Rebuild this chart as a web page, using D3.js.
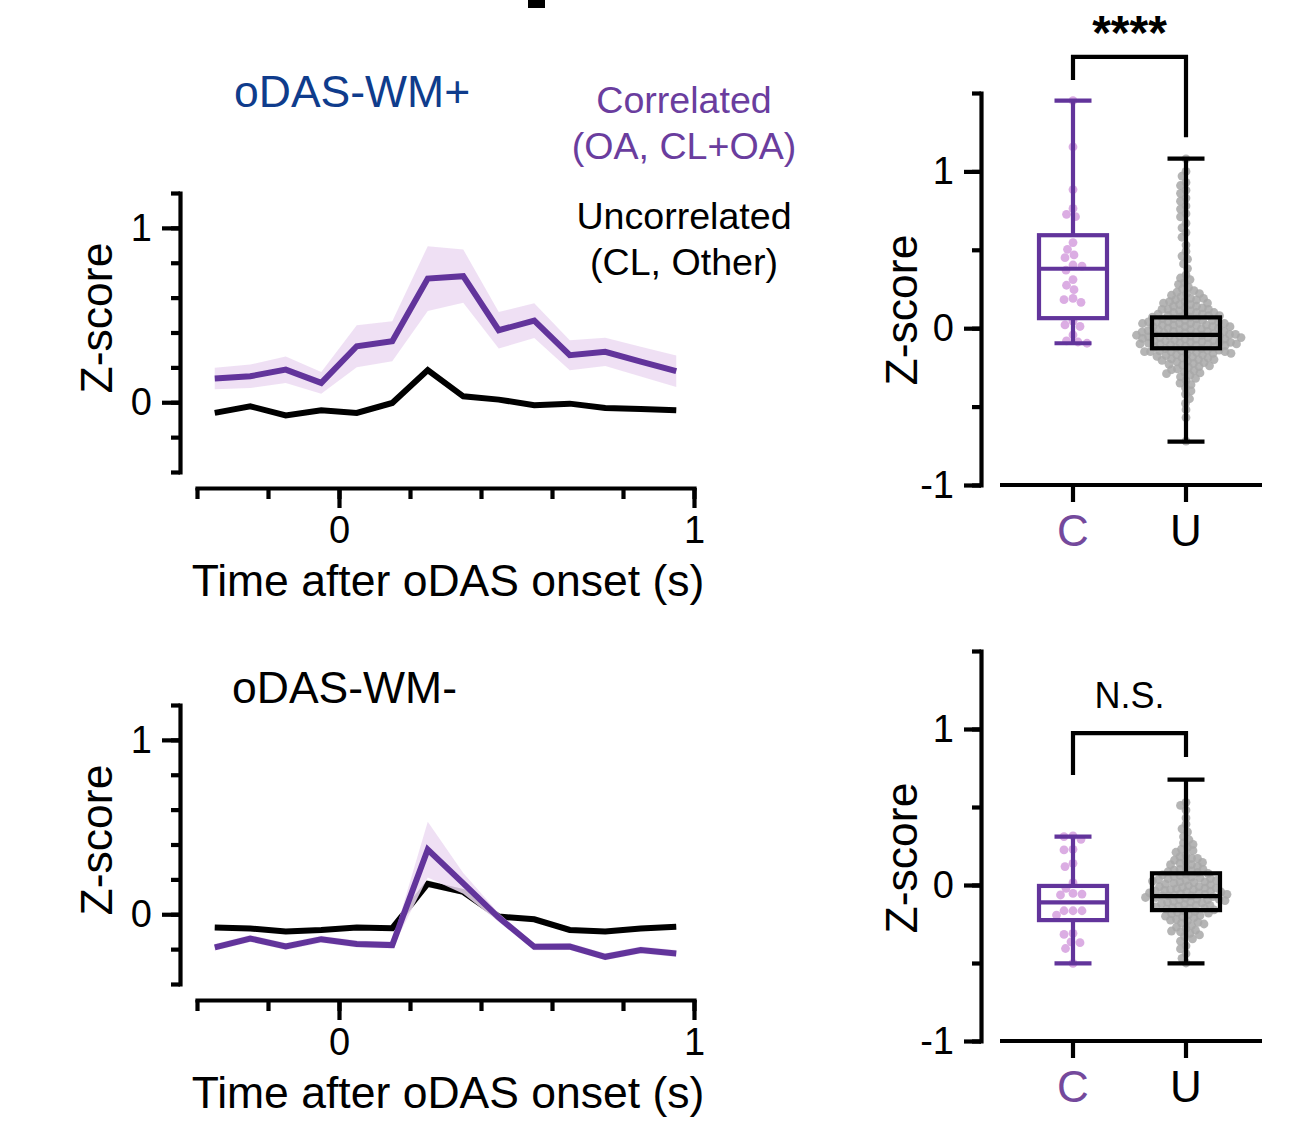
<!DOCTYPE html>
<html><head><meta charset="utf-8">
<script src="https://cdn.jsdelivr.net/npm/d3@7"></script>
<style>
body{margin:0;background:#fff}
svg{display:block}
text{font-family:"Liberation Sans",Arial,Helvetica,sans-serif}
</style>
</head><body>
<svg id="c" width="1304" height="1127"></svg>
<script>
// ---------------- DATA ----------------
const timeSec = [-0.35,-0.25,-0.15,-0.05,0.05,0.15,0.25,0.35,0.45,0.55,0.65,0.75,0.85,0.95];
const xTickValues = [-0.4,-0.2,0,0.2,0.4,0.6,0.8,1.0];
const xTickLabels = ["0","1"];
const lineYTicks = [-0.4,-0.2,0,0.2,0.4,0.6,0.8,1.0,1.2];
const lineYLabels = ["0","1"];

// oDAS-WM+
const wmPlusCorrMean = [0.136,0.149,0.187,0.111,0.321,0.350,0.709,0.723,0.413,0.468,0.270,0.289,0.233,0.178];
const wmPlusCorrSem  = [0.062,0.067,0.076,0.062,0.120,0.115,0.186,0.153,0.105,0.100,0.086,0.081,0.085,0.090];
const wmPlusUncMean  = [-0.061,-0.023,-0.076,-0.046,-0.061,-0.004,0.184,0.034,0.015,-0.017,-0.008,-0.033,-0.038,-0.046];
const wmPlusUncSem   = [0.012,0.012,0.012,0.012,0.012,0.014,0.022,0.014,0.012,0.012,0.012,0.012,0.012,0.012];
// oDAS-WM-
const wmMinusCorrMean = [-0.190,-0.139,-0.185,-0.143,-0.171,-0.177,0.371,0.177,-0.019,-0.187,-0.185,-0.244,-0.205,-0.225];
const wmMinusCorrSem  = [0.020,0.020,0.020,0.020,0.020,0.020,0.160,0.060,0.025,0.020,0.020,0.020,0.020,0.020];
const wmMinusUncMean  = [-0.076,-0.082,-0.099,-0.090,-0.076,-0.080,0.175,0.128,-0.013,-0.029,-0.090,-0.099,-0.082,-0.072];
const wmMinusUncSem   = [0.012,0.012,0.012,0.012,0.012,0.012,0.020,0.016,0.012,0.012,0.012,0.012,0.012,0.012];

// box plots: categories and stats [min, q1, median, q3, max]
const boxCategories = ["C","U"];
const boxYTicks = [-1,-0.5,0,0.5,1,1.5];
const boxYLabels = ["-1","0","1"];
const wmPlusBoxC = [-0.096,0.064,0.379,0.593,1.452];
const wmPlusBoxU = [-0.724,-0.128,-0.043,0.069,1.081];
const wmMinusBoxC = [-0.503,-0.225,-0.111,-0.006,0.310];
const wmMinusBoxU = [-0.503,-0.161,-0.071,0.075,0.675];
const sigLabels = ["****","N.S."];

const wmPlusPointsC = [1.452,1.156,0.884,0.764,0.726,0.711,0.546,0.503,0.467,0.450,0.403,0.396,0.370,0.310,0.274,0.246,0.190,0.182,0.165,0.045,0.021,0.011,-0.043,-0.081,-0.088,-0.096];
const wmPlusPointsU = [1.08,1.00,0.97,0.93,0.91,0.88,0.86,0.83,0.81,0.78,0.76,0.73,0.71,0.67,0.64,0.61,0.58,0.53,0.49,0.46,0.44,0.41,0.38,0.34,0.32,0.31,
0.29,0.28,0.26,0.25,
0.24,0.23,0.22,0.22,0.21,0.20,
0.19,0.19,0.18,0.18,0.17,0.17,0.16,0.16,0.15,
0.15,0.14,0.14,0.13,0.13,0.12,0.12,0.12,0.11,0.11,0.10,
0.10,0.10,0.09,0.09,0.09,0.08,0.08,0.08,0.07,0.07,0.07,0.06,0.06,0.06,0.05,
0.05,0.05,0.04,0.04,0.04,0.04,0.03,0.03,0.03,0.03,0.02,0.02,0.02,0.02,0.01,0.01,0.01,0.01,0.00,0.00,
-0.005,-0.01,-0.01,-0.01,-0.015,-0.02,-0.02,-0.02,-0.025,-0.03,-0.03,-0.03,-0.035,-0.04,-0.04,-0.04,-0.045,-0.045,-0.05,-0.05,-0.05,-0.05,
-0.055,-0.06,-0.06,-0.06,-0.065,-0.07,-0.07,-0.07,-0.075,-0.08,-0.08,-0.08,-0.085,-0.09,-0.09,-0.09,-0.095,-0.095,-0.10,-0.10,-0.10,-0.10,
-0.105,-0.11,-0.11,-0.115,-0.12,-0.12,-0.125,-0.13,-0.13,-0.135,-0.14,-0.14,-0.145,-0.145,-0.15,-0.15,-0.15,-0.15,
-0.155,-0.16,-0.16,-0.165,-0.17,-0.17,-0.175,-0.18,-0.185,-0.19,-0.19,-0.195,-0.20,-0.20,
-0.205,-0.21,-0.215,-0.22,-0.225,-0.23,-0.235,-0.24,-0.245,-0.25,
-0.26,-0.265,-0.27,-0.28,-0.285,-0.29,-0.30,
-0.31,-0.32,-0.335,-0.35,
-0.36,-0.38,-0.40,
-0.42,-0.45,
-0.48,-0.52,-0.57,-0.72];
const wmMinusPointsC = [0.315,0.310,0.293,0.229,0.225,0.139,0.118,0.015,-0.021,-0.054,-0.058,-0.064,-0.165,-0.165,-0.165,-0.193,-0.310,-0.317,-0.364,-0.370,-0.407,-0.503];
const wmMinusPointsU = [0.53,0.51,0.48,0.43,0.39,0.36,0.34,0.31,
0.29,0.27,0.26,
0.24,0.23,0.22,0.21,
0.19,0.18,0.17,0.17,0.16,0.15,
0.145,0.14,0.13,0.13,0.12,0.11,0.10,
0.10,0.095,0.09,0.085,0.08,0.075,0.07,0.065,0.06,0.055,
0.05,0.045,0.04,0.04,0.035,0.03,0.03,0.025,0.02,0.02,0.015,0.01,0.005,0.0,
-0.005,-0.01,-0.01,-0.015,-0.02,-0.02,-0.025,-0.03,-0.03,-0.035,-0.04,-0.04,-0.045,-0.045,-0.05,-0.05,
-0.055,-0.06,-0.06,-0.065,-0.07,-0.07,-0.07,-0.075,-0.08,-0.08,-0.085,-0.09,-0.09,-0.095,-0.095,-0.10,
-0.105,-0.11,-0.11,-0.115,-0.12,-0.125,-0.13,-0.13,-0.135,-0.14,-0.145,-0.15,-0.15,
-0.155,-0.16,-0.165,-0.17,-0.175,-0.18,-0.185,-0.19,-0.195,-0.20,
-0.205,-0.21,-0.22,-0.225,-0.23,-0.24,-0.245,-0.25,
-0.26,-0.27,-0.28,-0.29,-0.295,-0.30,
-0.31,-0.32,-0.33,-0.345,
-0.36,-0.39,
-0.41,-0.44,
-0.47,-0.50];

// ---------------- STYLE ----------------
const PURPLE = "#62349b";
const PURPLE_TXT = "#6a3d9e";
const PURPLE_LBL = "#74499c";
const PURPLE_BAND = "#ecdaf2";
const PURPLE_DOT = "#d9a9e2";
const BLUE = "#0f3c8c";
const GRAY_DOT = "#a8a8a8";
const FONT = '"Liberation Sans", Arial, Helvetica, sans-serif';
const TITLE_FS = 44.5;

const svg = d3.select("#c");

// cropped fragment of a glyph at the very top of the figure
svg.append("rect").attr("x",528).attr("y",0).attr("width",17).attr("height",8).attr("fill","#000");

function styleAxis(g, fs) {
  g.selectAll(".domain").attr("stroke","#000").attr("stroke-width",4.2).attr("stroke-linecap","square");
  g.selectAll(".tick line").attr("stroke","#000").attr("stroke-width",4.2);
  g.selectAll(".tick text").attr("fill","#000").style("font-size",fs+"px").style("font-family",FONT);
}
const plainFmt = d => String(d);

function drawLineChart(o) {
  const x = d3.scaleLinear().domain([-0.4,1.0]).range([197,694]);
  const y = d3.scaleLinear().domain([-0.4,1.2]).range([o.yBottom,o.yTop]);
  const g = svg.append("g");

  const ya = g.append("g").attr("transform",`translate(${o.yAxisX},0)`)
    .call(d3.axisLeft(y).tickValues(lineYTicks).tickSize(9).tickSizeOuter(0).tickFormat(""));
  styleAxis(ya, 38);
  const ya2 = g.append("g").attr("transform",`translate(${o.yAxisX},0)`)
    .call(d3.axisLeft(y).tickValues(lineYLabels.map(Number)).tickSize(18).tickPadding(10).tickSizeOuter(0).tickFormat(plainFmt));
  styleAxis(ya2, 38);
  ya2.select(".domain").remove();

  const xa = g.append("g").attr("transform",`translate(0,${o.xAxisY})`)
    .call(d3.axisBottom(x).tickValues(xTickValues).tickSize(11).tickSizeOuter(0).tickFormat(""));
  styleAxis(xa, 38);
  const xa2 = g.append("g").attr("transform",`translate(0,${o.xAxisY})`)
    .call(d3.axisBottom(x).tickValues(xTickLabels.map(Number)).tickSize(20).tickPadding(8).tickSizeOuter(0).tickFormat(plainFmt));
  styleAxis(xa2, 38);
  xa2.select(".domain").remove();

  const pts = (m,s)=>timeSec.map((t,i)=>({t,m:m[i],s:s[i]}));
  const area = d3.area().x(d=>x(d.t)).y0(d=>y(d.m-d.s)).y1(d=>y(d.m+d.s));
  const line = d3.line().x(d=>x(d.t)).y(d=>y(d.m));

  const unc = pts(o.uncMean,o.uncSem), cor = pts(o.corMean,o.corSem);
  g.append("path").datum(unc).attr("d",area).attr("fill","#d4d4d4");
  g.append("path").datum(unc).attr("d",line).attr("fill","none").attr("stroke","#000").attr("stroke-width",6).attr("stroke-linejoin","miter");
  g.append("path").datum(cor).attr("d",area).attr("fill",PURPLE_BAND).attr("opacity",0.85);
  g.append("path").datum(cor).attr("d",line).attr("fill","none").attr("stroke",PURPLE).attr("stroke-width",6).attr("stroke-linejoin","miter");

  g.append("text").attr("transform",`translate(${o.yTitleX},${o.yTitleY}) rotate(-90)`)
    .attr("text-anchor","middle").style("font-size",TITLE_FS+"px").text("Z-score");
  g.append("text").attr("x",448).attr("y",o.xTitleY).attr("text-anchor","middle")
    .style("font-size",TITLE_FS+"px").text("Time after oDAS onset (s)");
  g.append("text").attr("x",o.titleX).attr("y",o.titleY).attr("fill",o.titleColor)
    .style("font-size",TITLE_FS+"px").text(o.title);
}

function swarm(vals, y, c) {
  const sorted = vals.map(v=>({v, y:y(v)})).sort((a,b)=>a.y-b.y);
  const placed = [];
  for (const p of sorted) {
    const near = placed.filter(q=>Math.abs(q.y-p.y)<c);
    let best = 0;
    for (let k=0;k<600;k++){
      const off = (k%2===0?1:-1)*Math.ceil(k/2)*0.5;
      let ok = true;
      for (const q of near){ const dx=off-q.dx, dy=p.y-q.y; if(dx*dx+dy*dy<c*c){ok=false;break;} }
      if(ok){best=off;break;}
    }
    p.dx = best; placed.push(p);
  }
  return placed;
}

function drawBoxChart(o) {
  const y = d3.scaleLinear().domain([-1,1.5]).range([o.yBottom,o.yTop]);
  const x = d3.scalePoint().domain(boxCategories).range([1073,1186]);
  const g = svg.append("g");

  const ya = g.append("g").attr("transform",`translate(981,0)`)
    .call(d3.axisLeft(y).tickValues(boxYTicks).tickSize(9).tickSizeOuter(0).tickFormat(""));
  styleAxis(ya, 38);
  const ya2 = g.append("g").attr("transform",`translate(981,0)`)
    .call(d3.axisLeft(y).tickValues(boxYLabels.map(Number)).tickSize(17).tickPadding(10).tickSizeOuter(0).tickFormat(plainFmt));
  styleAxis(ya2, 38);
  ya2.select(".domain").remove();

  g.append("line").attr("x1",1000).attr("x2",1262).attr("y1",y(-1)).attr("y2",y(-1)).attr("stroke","#000").attr("stroke-width",4.2);
  boxCategories.forEach((c,i)=>{
    g.append("line").attr("x1",x(c)).attr("x2",x(c)).attr("y1",y(-1)).attr("y2",y(-1)+17).attr("stroke","#000").attr("stroke-width",4.2);
    g.append("text").attr("x",x(c)).attr("y",y(-1)+61).attr("text-anchor","middle")
      .attr("fill", i===0?PURPLE_LBL:"#000").style("font-size","44px").text(c);
  });

  const series = [
    {cat:"C", pts:o.pointsC, stats:o.boxC, color:PURPLE, dot:PURPLE_DOT, c:8.6, op:0.95},
    {cat:"U", pts:o.pointsU, stats:o.boxU, color:"#000", dot:GRAY_DOT, c:6.0, op:0.85}
  ];
  series.forEach(s=>{
    const cx = x(s.cat);
    swarm(s.pts, y, s.c).forEach(p=>{
      g.append("circle").attr("cx",cx+p.dx).attr("cy",p.y).attr("r",4.4).attr("fill",s.dot).attr("opacity",s.op);
    });
  });
  series.forEach(s=>{
    const cx = x(s.cat), [mn,q1,md,q3,mx] = s.stats;
    const st = sel=>sel.attr("stroke",s.color).attr("stroke-width",4.2).attr("fill","none");
    st(g.append("line").attr("x1",cx).attr("x2",cx).attr("y1",y(mx)).attr("y2",y(q3)));
    st(g.append("line").attr("x1",cx).attr("x2",cx).attr("y1",y(q1)).attr("y2",y(mn)));
    st(g.append("line").attr("x1",cx-18.5).attr("x2",cx+18.5).attr("y1",y(mx)).attr("y2",y(mx)));
    st(g.append("line").attr("x1",cx-18.5).attr("x2",cx+18.5).attr("y1",y(mn)).attr("y2",y(mn)));
    st(g.append("rect").attr("x",cx-34).attr("width",68).attr("y",y(q3)).attr("height",y(q1)-y(q3)));
    st(g.append("line").attr("x1",cx-34).attr("x2",cx+34).attr("y1",y(md)).attr("y2",y(md)));
  });

  const b = o.bracket;
  g.append("path").attr("d",`M${x("C")},${y(b.left)}V${y(b.top)}H${x("U")}V${y(b.right)}`)
    .attr("fill","none").attr("stroke","#000").attr("stroke-width",4.2);
  g.append("text").attr("x",(x("C")+x("U"))/2).attr("y",o.sigY).attr("text-anchor","middle")
    .style("font-size",o.sigSize+"px").style("font-weight",o.sigWeight).text(o.sig);

  g.append("text").attr("transform",`translate(917,${o.yTitleY}) rotate(-90)`)
    .attr("text-anchor","middle").style("font-size",TITLE_FS+"px").text("Z-score");
}

// ---------- panels ----------
drawLineChart({yTop:193, yBottom:472, yAxisX:180, xAxisY:488, yTitleX:112, yTitleY:318,
  xTitleY:596, title:"oDAS-WM+", titleColor:BLUE, titleX:234, titleY:107,
  corMean:wmPlusCorrMean, corSem:wmPlusCorrSem, uncMean:wmPlusUncMean, uncSem:wmPlusUncSem});
drawLineChart({yTop:705, yBottom:984, yAxisX:180, xAxisY:1000, yTitleX:112, yTitleY:840,
  xTitleY:1108, title:"oDAS-WM-", titleColor:"#000", titleX:232, titleY:703,
  corMean:wmMinusCorrMean, corSem:wmMinusCorrSem, uncMean:wmMinusUncMean, uncSem:wmMinusUncSem});

const leg = svg.append("g").attr("text-anchor","middle").style("font-size","37.6px");
leg.append("text").attr("x",684).attr("y",113).attr("fill",PURPLE_TXT).text("Correlated");
leg.append("text").attr("x",684).attr("y",159).attr("fill",PURPLE_TXT).text("(OA, CL+OA)");
leg.append("text").attr("x",684).attr("y",229).attr("fill","#000").text("Uncorrelated");
leg.append("text").attr("x",684).attr("y",275).attr("fill","#000").text("(CL, Other)");

drawBoxChart({yTop:93, yBottom:485, yTitleY:310, pointsC:wmPlusPointsC, pointsU:wmPlusPointsU,
  boxC:wmPlusBoxC, boxU:wmPlusBoxU, bracket:{top:1.73,left:1.583,right:1.218},
  sig:sigLabels[0], sigY:49, sigSize:48, sigWeight:"bold"});
drawBoxChart({yTop:651, yBottom:1041, yTitleY:858, pointsC:wmMinusPointsC, pointsU:wmMinusPointsU,
  boxC:wmMinusBoxC, boxU:wmMinusBoxU, bracket:{top:0.974,left:0.705,right:0.82},
  sig:sigLabels[1], sigY:708, sigSize:36, sigWeight:"normal"});
</script>
</body></html>
